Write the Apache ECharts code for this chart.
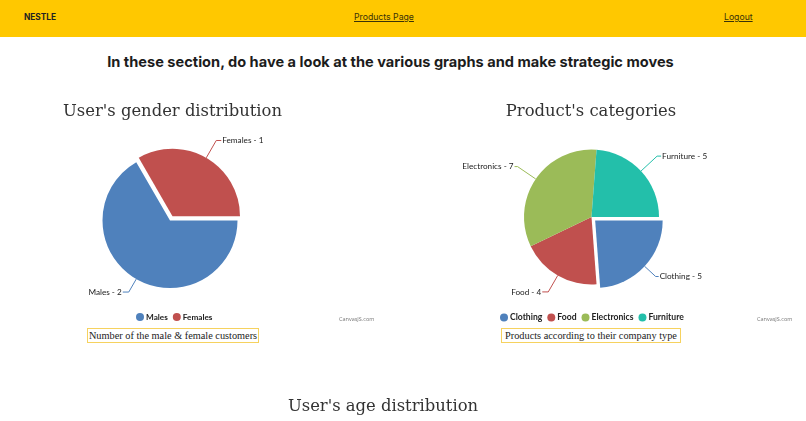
<!DOCTYPE html>
<html>
<head>
<meta charset="utf-8">
<title>Nestle</title>
<script src="https://cdn.jsdelivr.net/npm/echarts@6/dist/echarts.min.js"></script>
<style>
  html, body { margin: 0; padding: 0; width: 806px; height: 421px; overflow: hidden; background: #fff; }
  .navbar { position: absolute; left: 0; top: 0; width: 806px; height: 37px; background: #ffc800; font-family: Inter, sans-serif; font-size: 8.7px; color: #3a3208; }
  .navbar span { position: absolute; top: 11px; line-height: 12px; }
  .brand { left: 24px; font-weight: 700; color: #222; font-size: 8.3px; }
  .navbar a { text-decoration: underline; }
  h2 { position: absolute; left: 0; top: 52px; width: 781px; margin: 0; text-align: center; font-family: Inter, sans-serif; font-size: 14.6px; line-height: 20px; font-weight: 700; color: #1c1c1c; }
  .chart { position: absolute; }
  .caption { position: absolute; top: 328px; height: 13px; line-height: 13px; border: 1px solid #f6d25f; font-family: "Liberation Serif", serif; font-size: 10.3px; color: #222; white-space: nowrap; text-align: center; }
</style>
</head>
<body>
<div class="navbar">
  <span class="brand">NESTLE</span>
  <span style="left:354px"><a>Products Page</a></span>
  <span style="left:724px"><a>Logout</a></span>
</div>
<h2>In these section, do have a look at the various graphs and make strategic moves</h2>

<div id="genderChart" class="chart" style="left:0;top:85px;width:403px;height:240px"></div>
<div id="categoryChart" class="chart" style="left:403px;top:85px;width:403px;height:240px"></div>
<div id="ageChart" class="chart" style="left:0;top:390px;width:806px;height:31px"></div>

<div class="caption" style="left:87px;width:170px">Number of the male &amp; female customers</div>
<div class="caption" style="left:501px;width:178px">Products according to their company type</div>

<script>
  const genderNames = ['Males', 'Females']
  const genderValues = [2, 1]
  const genderExploded = ['Females']

  const categoryNames = ['Clothing', 'Food', 'Electronics', 'Furniture']
  const categoryValues = [5, 4, 7, 5]
  const categoryExploded = ['Clothing']

  const sliceColors = ['#4f81bc', '#c0504e', '#9bbb58', '#23bfaa']

  const titleFont = 'DejaVu Serif'
  const labelFont = 'Lato'

  // one pie per chart, cfg only carries the layout stuff
  let drawPie = (id, names, values, exploded, cfg) => {
    let chart = echarts.init(document.getElementById(id))
    let data = names.map((name, i) => ({
      name: name,
      value: values[i],
      selected: exploded.indexOf(name) >= 0,
      labelLine: { length: cfg.lineLengths[i], length2: cfg.lineEnds[i] }
    }))

    chart.setOption({
      animation: false,
      color: sliceColors,
      title: {
        text: cfg.title,
        left: cfg.titleX,
        top: 14,
        textAlign: 'center',
        textStyle: { fontFamily: titleFont, fontSize: 16.4, fontWeight: 'normal', color: '#333' }
      },
      legend: {
        data: names,
        left: cfg.legendX,
        top: 223,
        icon: 'circle',
        itemWidth: 8,
        itemHeight: 8,
        itemGap: 5,
        selectedMode: false,
        textStyle: { fontFamily: labelFont, fontSize: cfg.legendSize, fontWeight: 'bold', color: '#222', padding: [0, 0, 0, -3] }
      },
      graphic: [{
        type: 'text',
        left: cfg.markX,
        top: 231,
        style: { text: 'CanvasJS.com', font: '5.5px "Open Sans"', fill: '#777' }
      }],
      series: [{
        type: 'pie',
        center: cfg.center,
        radius: 67.5,
        startAngle: 0,
        clockwise: true,
        selectedMode: 'multiple',
        selectedOffset: 5,
        avoidLabelOverlap: false,
        emphasis: { disabled: true },
        label: {
          formatter: '{b} - {c}',
          fontFamily: labelFont,
          fontSize: 8.2,
          color: '#222',
          distanceToLabelLine: 1
        },
        labelLine: { lineStyle: { width: 1 } },
        data: data
      }]
    })
  }

  drawPie('genderChart', genderNames, genderValues, genderExploded, {
    title: "User's gender distribution",
    titleX: 167.5,
    legendX: 131,
    legendSize: 8.2,
    markX: 339,
    center: [170, 135.6],
    lineLengths: [15, 20],
    lineEnds: [6, 5]
  })

  drawPie('categoryChart', categoryNames, categoryValues, categoryExploded, {
    title: "Product's categories",
    titleX: 183,
    legendX: 92,
    legendSize: 8.6,
    markX: 354,
    center: [188.5, 132],
    lineLengths: [15, 19, 22, 22],
    lineEnds: [3, 6, 3, 4]
  })

  // third chart is cut off by the window, only its title is visible
  echarts.init(document.getElementById('ageChart')).setOption({
    animation: false,
    title: {
      text: "User's age distribution",
      left: 378,
      top: 4,
      textAlign: 'center',
      textStyle: { fontFamily: titleFont, fontSize: 16.4, fontWeight: 'normal', color: '#333' }
    }
  })
</script>
</body>
</html>
